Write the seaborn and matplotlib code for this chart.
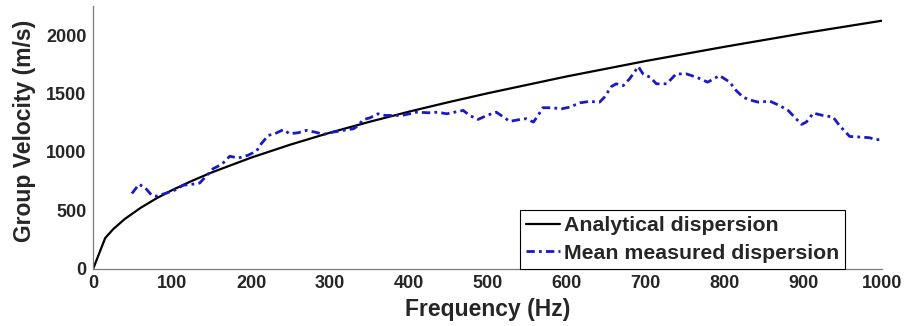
import matplotlib
matplotlib.use("Agg")
import matplotlib.pyplot as plt
import seaborn as sns
import pandas as pd

# Analytical dispersion curve
freq_analytical = [0, 15, 25, 40, 60, 80, 100, 125, 150, 200, 250, 300, 350,
                   400, 450, 500, 600, 700, 800, 900, 1000]
vel_analytical = [0, 260, 336, 425, 520, 601, 672, 751, 823, 950, 1062, 1164,
                  1257, 1344, 1425, 1502, 1646, 1778, 1900, 2016, 2124]

# Mean measured dispersion
freq_measured = [49, 58, 66, 74, 80, 91, 103, 114, 125, 135, 144, 152, 163, 173,
                 184, 196, 207, 213, 222, 230, 241, 249, 260, 270, 281, 292, 304,
                 317, 330, 336, 342, 351, 361, 370, 380, 391, 401, 410, 425, 437,
                 448, 458, 469, 477, 488, 499, 511, 520, 528, 539, 549, 558, 564,
                 570, 581, 594, 604, 617, 629, 642, 648, 657, 663, 672, 680, 691,
                 697, 706, 714, 727, 739, 752, 765, 779, 794, 807, 815, 824, 832,
                 843, 858, 870, 881, 891, 898, 904, 913, 925, 938, 946, 959, 972,
                 984, 993, 1000]
vel_measured = [643, 722, 690, 628, 620, 643, 671, 714, 722, 733, 799, 856, 893, 962,
                947, 970, 1007, 1070, 1141, 1155, 1190, 1155, 1164, 1184, 1169, 1150,
                1169, 1184, 1198, 1226, 1275, 1292, 1326, 1312, 1312, 1312, 1326,
                1340, 1335, 1340, 1326, 1340, 1355, 1312, 1278, 1312, 1340, 1298,
                1261, 1275, 1284, 1255, 1312, 1378, 1378, 1369, 1383, 1420, 1432,
                1426, 1468, 1560, 1583, 1568, 1626, 1731, 1668, 1639, 1583, 1583,
                1668, 1668, 1639, 1597, 1654, 1597, 1526, 1468, 1446, 1426, 1434,
                1397, 1355, 1284, 1235, 1255, 1332, 1312, 1298, 1226, 1132, 1127,
                1121, 1104, 1107]

x_ticks = [0, 100, 200, 300, 400, 500, 600, 700, 800, 900, 1000]
y_ticks = [0, 500, 1000, 1500, 2000]
series_labels = ["Analytical dispersion", "Mean measured dispersion"]

df_a = pd.DataFrame({"f": freq_analytical, "v": vel_analytical})
df_m = pd.DataFrame({"f": freq_measured, "v": vel_measured})

sns.set_theme(style="white")
plt.rcParams["font.family"] = ["Liberation Sans", "DejaVu Sans"]
plt.rcParams["font.weight"] = "bold"
plt.rcParams["axes.labelweight"] = "bold"

W, H = 909, 326
fig = plt.figure(figsize=(W / 100, H / 100), dpi=100)
x0, x1, yb, yt = 93.3, 882, 268.5, 6
ax = fig.add_axes([x0 / W, 1 - yb / H, (x1 - x0) / W, (yb - yt) / H])

sns.lineplot(data=df_a, x="f", y="v", ax=ax, color="black", linewidth=1.6,
             label=series_labels[0], sort=False)
sns.lineplot(data=df_m, x="f", y="v", ax=ax, color="#1a1ac4", linewidth=2.0,
             linestyle=(0, (3, 1.5, 1, 1.5)), label=series_labels[1], sort=False)

ax.set_xlim(0, 1000)
ax.set_ylim(0, 2250)
ax.set_xticks(x_ticks)
ax.set_yticks(y_ticks)
ax.set_xlabel("Frequency (Hz)", fontsize=16.5, color="#262626", labelpad=4)
ax.set_ylabel("Group Velocity (m/s)", fontsize=16.5, color="#262626", labelpad=7)
ax.yaxis.label.set_y(0.524)

for s in ["top", "right"]:
    ax.spines[s].set_visible(False)
for s in ["left", "bottom"]:
    ax.spines[s].set_color("#7a7a7a")
    ax.spines[s].set_linewidth(0.9)
ax.tick_params(axis="both", direction="in", length=4, width=0.9, color="#7a7a7a",
               labelsize=13, labelcolor="#262626", pad=5)
for t in ax.get_xticklabels() + ax.get_yticklabels():
    t.set_fontweight("bold")

leg = ax.legend(loc="lower right", bbox_to_anchor=((845 - x0) / (x1 - x0), 0.0),
                borderaxespad=0, fancybox=False, framealpha=1, edgecolor="black",
                fontsize=15.3, handlelength=1.6, handletextpad=0.2,
                labelspacing=0.4, borderpad=0.28)
leg.get_frame().set_linewidth(0.8)
for t in leg.get_texts():
    t.set_fontweight("bold")

fig.savefig("out.png", dpi=100)
